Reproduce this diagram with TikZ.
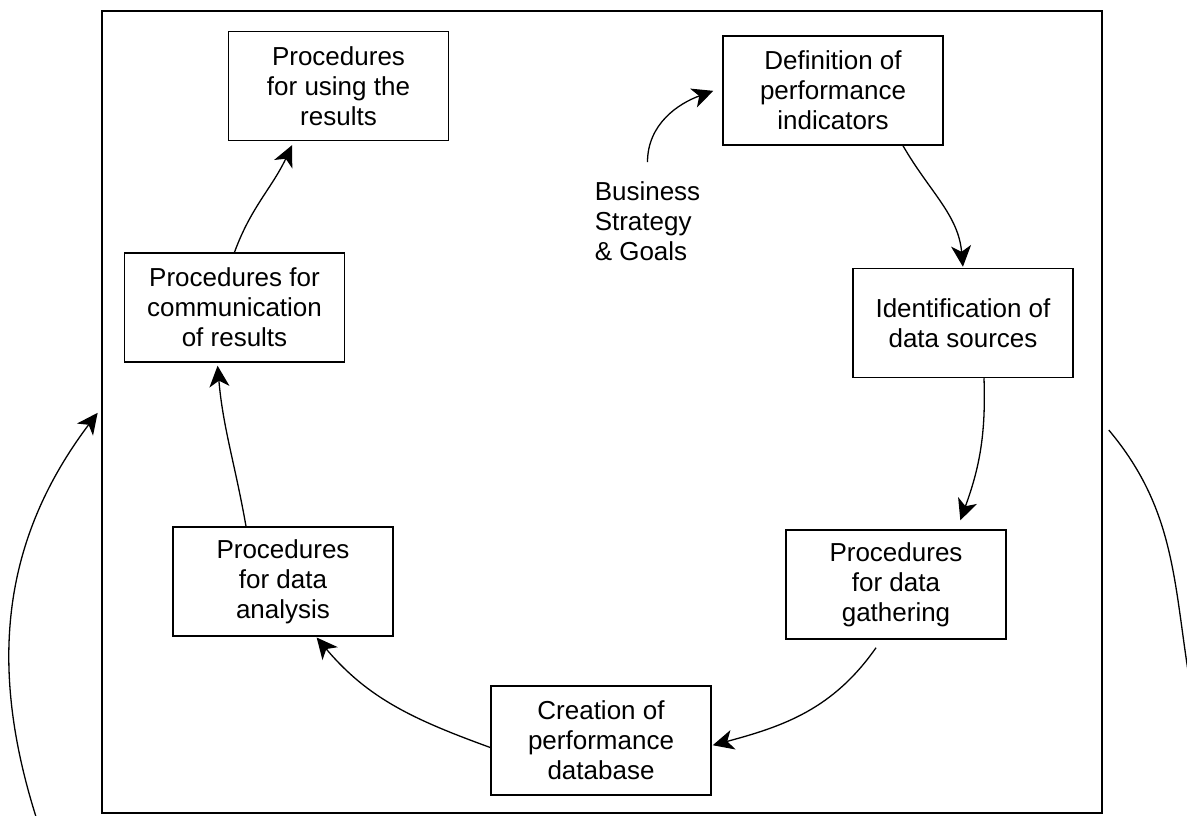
\documentclass[tikz,border=0pt]{standalone}
\usepackage{fontspec}
\setmainfont{Liberation Sans}
\usetikzlibrary{positioning, arrows.meta}

\begin{document}
\begin{tikzpicture}[x=1pt,y=1pt,shorten >=1pt,on grid,line width=1.5pt,
             >={Stealth[length=21pt,width=20pt,inset=6pt]},
             every node/.style={font=\fontsize{26}{30}\selectfont},
             proc/.style={draw,minimum width=220pt,minimum height=109pt,align=center,inner sep=2pt}]
             \useasboundingbox (0,0) rectangle (1187,815);
             \clip (0,0) rectangle (1187,815);
             \node[draw,minimum width=1000pt,minimum height=802pt] (frame) at (602,403) {};
             \node[proc] (res) at (338.5,729) {Procedures\\for using the\\results};
             \node[proc] (def) [right=494.5pt of res, yshift=-4.5pt] {Definition of\\performance\\indicators};
             \node[proc] (ide) [below=232.5pt of def, xshift=130pt] {Identification of\\data sources};
             \node[proc] (gat) [below=261.5pt of ide, xshift=-67pt] {Procedures\\for data\\gathering};
             \node[proc] (cre) [below=156pt of gat, xshift=-295pt] {Creation of\\performance\\database};
             \node[proc] (ana) [above=159pt of cre, xshift=-318pt] {Procedures\\for data\\analysis};
             \node[proc] (com) [above=274pt of ana, xshift=-48.5pt] {Procedures for\\communication\\of results};
             \node[align=left,inner sep=0pt,anchor=west] (biz) at (594,593.5) {Business\\Strategy\\\& Goals};
             \coordinate (lin) at (38,-8);
             \coordinate (rin) at ([xshift=6pt,yshift=-18pt]frame.east);
             \coordinate (rout) at (1192,120);
             \path[->,line width=1.3pt]
             ([xshift=70pt]def.south) edge[out=-60,in=95] (ide.north)
             ([xshift=21pt]ide.south) edge[out=-88,in=70] ([xshift=64pt,yshift=8pt]gat.north)
             ([xshift=-20pt,yshift=-8pt]gat.south) edge[out=-125,in=15] ([yshift=-5pt]cre.east)
             ([yshift=-7pt]cre.west) edge[out=160,in=-50] ([xshift=33pt]ana.south)
             ([xshift=-37pt]ana.north) edge[out=100,in=-85] ([xshift=-17pt,yshift=-2pt]com.south)
             (com.north) edge[out=70,in=-115] ([xshift=-46pt,yshift=-3pt]res.south)
             ([yshift=19pt]biz.north) edge[out=90,in=200] ([xshift=-8pt]def.west)
             (lin) edge[out=108,in=233] ([xshift=-3pt]frame.west);
             \path[line width=1.3pt] (rin) edge[out=-50,in=100] (rout);
\end{tikzpicture}
\end{document}
